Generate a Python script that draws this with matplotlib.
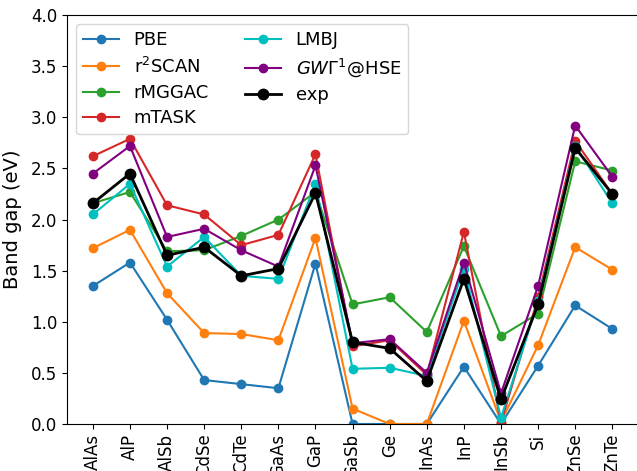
import matplotlib
matplotlib.use("Agg")
import matplotlib.pyplot as plt
import numpy as np

# Compounds on the x axis
materials = ["AlAs", "AlP", "AlSb", "CdSe", "CdTe", "GaAs", "GaP", "GaSb",
             "Ge", "InAs", "InP", "InSb", "Si", "ZnSe", "ZnTe"]

# Band gaps (eV)
pbe    = [1.35, 1.58, 1.02, 0.43, 0.39, 0.35, 1.57, 0.00, 0.00, 0.00, 0.56, 0.00, 0.57, 1.16, 0.93]
r2scan = [1.72, 1.90, 1.28, 0.89, 0.88, 0.82, 1.82, 0.15, 0.00, 0.00, 1.01, 0.02, 0.77, 1.73, 1.51]
rmggac = [2.16, 2.27, 1.69, 1.70, 1.84, 2.00, 2.27, 1.17, 1.24, 0.90, 1.74, 0.86, 1.08, 2.57, 2.48]
mtask  = [2.62, 2.79, 2.14, 2.05, 1.75, 1.85, 2.64, 0.76, 0.82, 0.48, 1.88, 0.01, 1.24, 2.77, 2.25]
lmbj   = [2.05, 2.35, 1.54, 1.83, 1.45, 1.42, 2.35, 0.54, 0.55, 0.47, 1.52, 0.06, 1.20, 2.72, 2.16]
gw     = [2.45, 2.72, 1.83, 1.91, 1.70, 1.54, 2.53, 0.79, 0.83, 0.50, 1.58, 0.30, 1.35, 2.92, 2.42]
exp    = [2.16, 2.45, 1.65, 1.73, 1.45, 1.52, 2.26, 0.80, 0.74, 0.42, 1.42, 0.24, 1.17, 2.70, 2.25]

x = np.arange(len(materials))

fig = plt.figure(figsize=(6.37, 4.71), dpi=100)
ax = fig.add_axes([0.105, 0.0998, 0.897, 0.868])

ax.plot(x, pbe, "o-", color="tab:blue", label="PBE")
ax.plot(x, r2scan, "o-", color="tab:orange", label="r$^2$SCAN")
ax.plot(x, rmggac, "o-", color="tab:green", label="rMGGAC")
ax.plot(x, mtask, "o-", color="tab:red", label="mTASK")
ax.plot(x, lmbj, "o-", color="c", label="LMBJ")
ax.plot(x, gw, "o-", color="purple", label=r"$GW\Gamma^1$@HSE")
ax.plot(x, exp, "o-", color="black", lw=2, ms=7.5, label="exp")

ax.set_ylim(0, 4)
ax.set_xticks(x)
ax.set_xticklabels(materials, rotation=90, fontsize=12)
ax.tick_params(axis="y", labelsize=12)
ax.set_ylabel("Band gap (eV)", fontsize=14, labelpad=6)
ax.legend(ncol=2, loc="upper left", fontsize=13, labelspacing=0.4)

plt.savefig("out.png", dpi=100)
